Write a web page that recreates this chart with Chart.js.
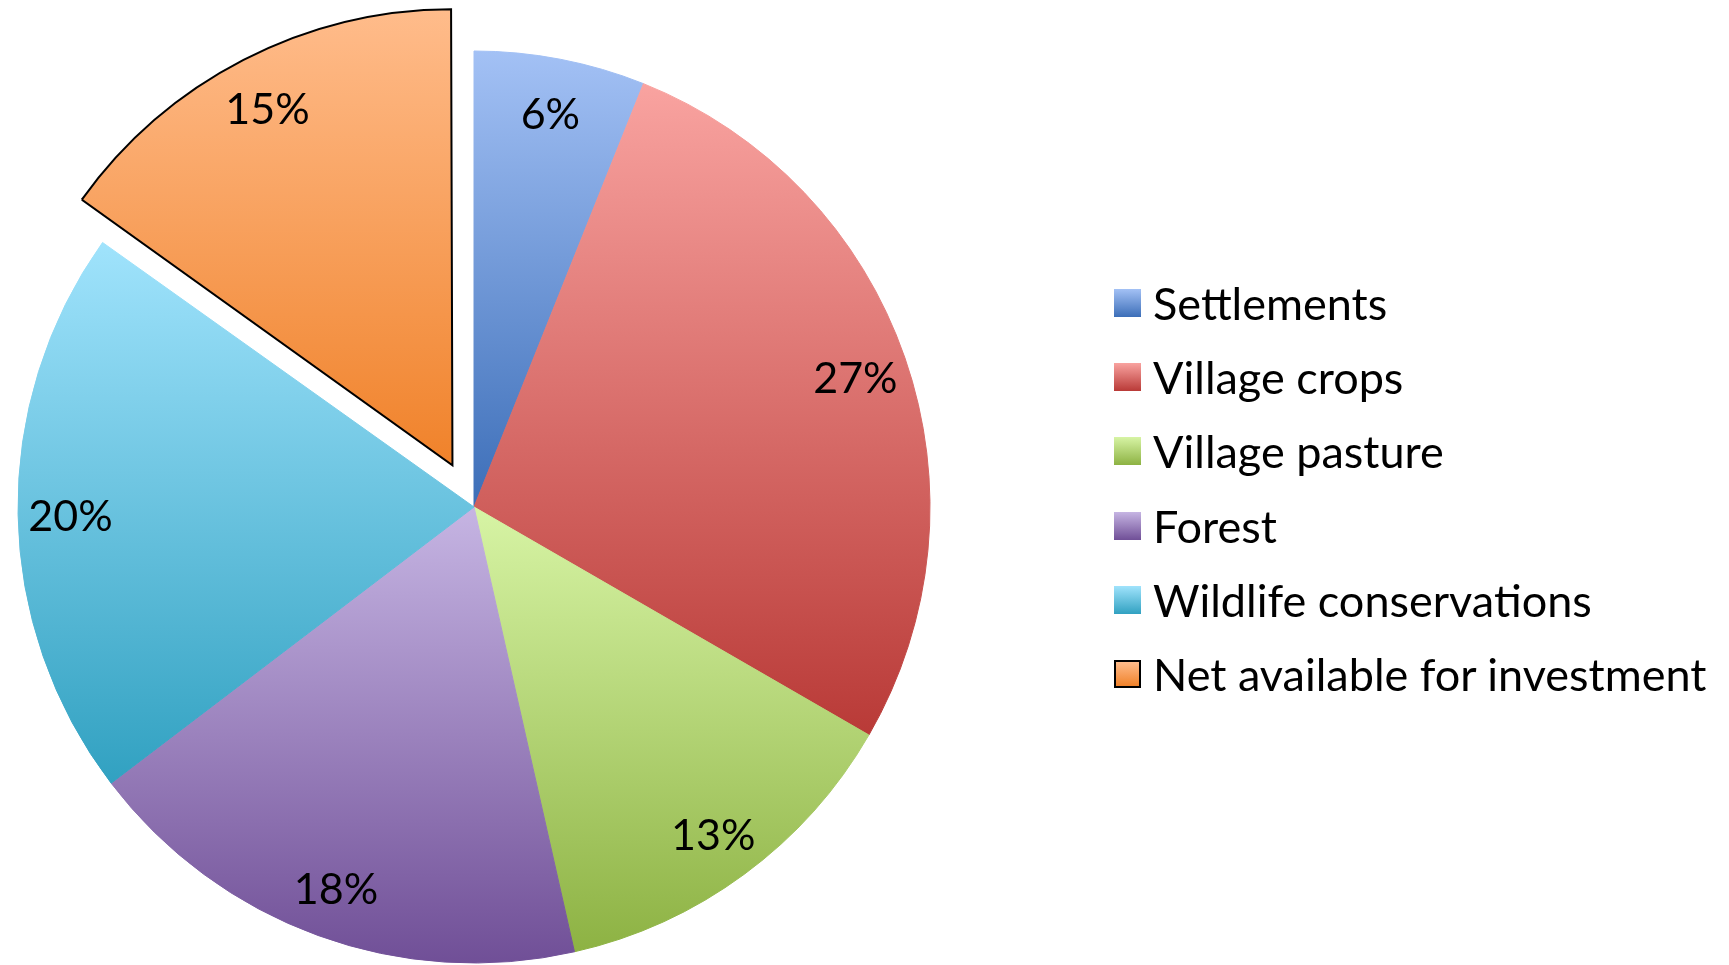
<!DOCTYPE html>
<html>
<head>
<meta charset="utf-8">
<title>Land use</title>
<script src="https://cdn.jsdelivr.net/npm/chart.js@4.4.1/dist/chart.umd.min.js"></script>
<style>
    html, body { margin: 0; padding: 0; background: #fff; }
    #wrap { position: relative; width: 1729px; height: 965px; overflow: hidden; }
    #land-chart { position: absolute; left: 0; top: 0; }
    #legend { position: absolute; left: 1114px; top: 266px; font-family: Lato, sans-serif; font-size: 45px; color: #000; }
    .item { height: 74.2px; display: flex; align-items: center; white-space: nowrap; }
    .box { width: 27px; height: 28px; margin-right: 12px; box-sizing: border-box; }
</style>
</head>
<body>
<div id="wrap">
    <canvas id="land-chart" width="1729" height="965"></canvas>
    <div id="legend"></div>
</div>
<script>
const categories = ['Settlements', 'Village crops', 'Village pasture', 'Forest', 'Wildlife conservations', 'Net available for investment'];
const shares = [6, 27, 13, 18, 20, 15];
const explodedIndex = 5;

// light tint at the top of each slice, base shade at the bottom
const topColors = ['#a3c1f5', '#f9a3a0', '#d7f4a5', '#c6b5e3', '#a0e3fc', '#ffbc8b'];
const bottomColors = ['#3c6eb8', '#b93a37', '#8db243', '#704f97', '#31a1c1', '#f0822a'];

const sliceGradient = (ctx) => {
    const el = ctx.element;
    const i = ctx.dataIndex;
    if (!el || !el.outerRadius) return bottomColors[i];
    const { x, y, startAngle, endAngle, outerRadius } = el;
    let ys = [y, y + Math.sin(startAngle) * outerRadius, y + Math.sin(endAngle) * outerRadius];
    for (let k = -1; k <= 3; k++) {
        const a = k * Math.PI / 2;
        if (a > startAngle && a < endAngle) ys.push(y + Math.sin(a) * outerRadius);
    }
    const g = ctx.chart.ctx.createLinearGradient(0, Math.min(...ys), 0, Math.max(...ys));
    g.addColorStop(0, topColors[i]);
    g.addColorStop(1, bottomColors[i]);
    return g;
};

// chart.js grows an offset arc a little, keep the exploded slice at the same radius
let savedRadius = null;
const keepRadius = {
    id: 'keepRadius',
    beforeDatasetDraw(chart) {
        const arc = chart.getDatasetMeta(0).data[explodedIndex];
        if (!arc) return;
        const fix = 1 - Math.sin(Math.min(Math.PI, arc.circumference || 0));
        savedRadius = arc.outerRadius;
        arc.outerRadius = savedRadius - (arc.options.offset || 0) / 4 * fix;
    },
    afterDatasetDraw(chart) {
        const arc = chart.getDatasetMeta(0).data[explodedIndex];
        if (arc && savedRadius !== null) arc.outerRadius = savedRadius;
        savedRadius = null;
    }
};

const pctLabels = {
    id: 'pctLabels',
    afterDatasetsDraw(chart) {
        const { ctx } = chart;
        const meta = chart.getDatasetMeta(0);
        const total = shares.reduce((a, b) => a + b, 0);
        ctx.save();
        ctx.font = '43px Lato';
        ctx.fillStyle = '#000';
        ctx.textAlign = 'center';
        ctx.textBaseline = 'middle';
        meta.data.forEach((arc, i) => {
            const mid = (arc.startAngle + arc.endAngle) / 2;
            const shift = (arc.options.offset || 0) / 4;
            const r = arc.outerRadius * 0.885 + shift;
            ctx.fillText(Math.round(shares[i] / total * 100) + '%', arc.x + Math.cos(mid) * r, arc.y + Math.sin(mid) * r + 4);
        });
        ctx.restore();
    }
};

const chart = new Chart(document.getElementById('land-chart'), {
    type: 'pie',
    data: {
        labels: categories,
        datasets: [{
            data: shares,
            radius: 456,
            backgroundColor: sliceGradient,
            borderColor: (ctx) => ctx.dataIndex === explodedIndex ? '#000' : sliceGradient(ctx),
            borderWidth: (ctx) => ctx.dataIndex === explodedIndex ? 2 : 1,
            borderJoinStyle: 'miter',
            offset: (ctx) => ctx.dataIndex === explodedIndex ? 188 : 0
        }]
    },
    options: {
        responsive: false,
        animation: false,
        layout: { padding: { left: 0, right: 781, top: 49, bottom: 0 } },
        plugins: {
            legend: { display: false },
            tooltip: { enabled: false }
        }
    },
    plugins: [keepRadius, pctLabels]
});
// second pass so the gradients can use the slice geometry
chart.update();

const legend = document.getElementById('legend');
categories.forEach((name, i) => {
    const row = document.createElement('div');
    row.className = 'item';
    const box = document.createElement('span');
    box.className = 'box';
    box.style.background = `linear-gradient(to bottom, ${topColors[i]}, ${bottomColors[i]})`;
    if (i === explodedIndex) box.style.border = '2px solid #000';
    const txt = document.createElement('span');
    txt.textContent = name;
    row.appendChild(box);
    row.appendChild(txt);
    legend.appendChild(row);
});
</script>
</body>
</html>
